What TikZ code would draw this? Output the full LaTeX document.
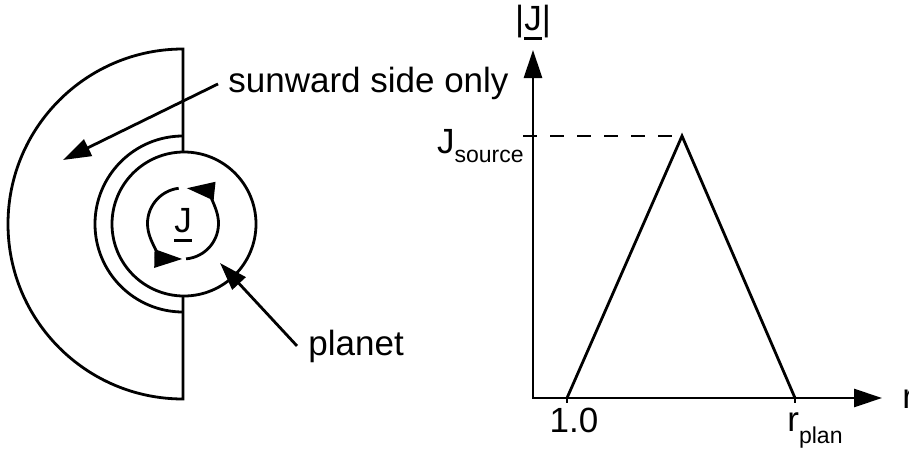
\documentclass[tikz,border=0pt]{standalone}
\usepackage{fontspec}
\setmainfont{Liberation Sans}
\usetikzlibrary{positioning, arrows.meta}

\newcommand{\barunder}[1]{\vtop{\hbox{#1}\kern3.3pt\hrule height 1.3pt}}
\newcommand{\lowsub}[2]{\raisebox{-#1}{\fontsize{11.5}{13}\selectfont #2}}

\begin{document}
\begin{tikzpicture}[
    x=0.5pt, y=0.5pt,
    >={Triangle[length=14pt, width=9pt]},
    ln/.style={line width=1.4pt},
    txt/.style={font=\fontsize{17.5}{21}\selectfont, inner sep=0pt}
]
\useasboundingbox (0,0) rectangle (909,451);

% Left: planet with sunward shells
\coordinate (sun) at (183, 227);
\coordinate (outtop) at (183, 402);
\coordinate (outbot) at (183, 52);
\coordinate (midtop) at (183, 315);
\coordinate (plantop) at (183, 299);
\coordinate (planbot) at (183, 155);
\coordinate (planet) at (184, 227);
\coordinate (jc) at (183, 227.5);

\draw[ln] (plantop) -- (outtop) arc[start angle=90, end angle=270, radius=87.5pt] -- (planbot);
\draw[ln] (midtop) arc[start angle=90, end angle=270, radius=44pt];
\draw[ln] (planet) circle[radius=36pt];

% Current loop
\draw[ln, ->] ([shift={(275:17.75pt)}]jc) arc[start angle=275, end angle=444, radius=17.75pt];
\draw[ln, ->] ([shift={(97:17.75pt)}]jc) arc[start angle=97, end angle=269, radius=17.75pt];
\node[txt, anchor=base] (jlbl) at (183, 219) {\barunder{J}};

% Labels with arrows
\node[txt, anchor=base west] (sunlbl) at (228, 358) {sunward side only};
\coordinate (suntip) at (63, 291);
\draw[ln, ->] ([xshift=-5pt]sunlbl.west) -- (suntip);

\node[txt, anchor=base west] (plbl) at (308, 96) {planet};
\coordinate (pltip) at (220, 188);
\draw[ln, ->] ([xshift=-5.5pt]plbl.west) -- (pltip);

% Right: profile of |J| against r
\coordinate (org) at (533, 53);
\coordinate (ytop) at (533, 401);
\coordinate (xend) at (882, 53);
\coordinate (one) at (567, 53);
\coordinate (rpl) at (795, 53);
\coordinate (peak) at (682, 315);
\coordinate (ysrc) at (523, 315);

\draw[ln, <->] (ytop) -- (org) -- (xend);
\draw[ln] (one) -- ++(0, -5);
\draw[ln] (rpl) -- ++(0, -5);
\draw[ln, dash pattern=on 7pt off 6.5pt] (ysrc) -- (peak);
\draw[ln, line join=miter] (one) -- (peak) -- (rpl);

\node[txt, anchor=base] (ylbl) at (533, 421) {|\barunder{J}|};
\node[txt, anchor=base east] (srclbl) at (524, 298) {J\lowsub{4.5pt}{source}};
\node[txt, anchor=base] (onelbl) at (574, 19) {1.0};
\node[txt, anchor=base west] (rpllbl) at (787, 20) {r\lowsub{6pt}{plan}};
\node[txt, anchor=base west] (xlbl) at (902, 43) {r};

\end{tikzpicture}
\end{document}
